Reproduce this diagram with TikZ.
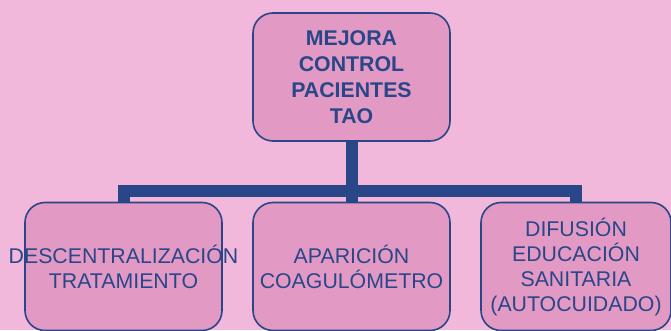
\documentclass[tikz,border=0pt]{standalone}
\usepackage{fontspec}
\setmainfont{Liberation Sans}
\usetikzlibrary{positioning,calc}
\pgfdeclarelayer{bg}
\pgfsetlayers{bg,main}
\definecolor{rosaclaro}{RGB}{241,184,219}
\definecolor{rosa}{RGB}{226,153,196}
\definecolor{azul}{RGB}{41,71,136}

\tikzset{
  cajita/.style={draw=azul, line width=1.6pt, fill=rosa, rounded corners=20pt,
    text=azul, align=center, minimum width=197pt, minimum height=128pt,
    inner sep=0pt, font=\fontsize{21.3}{25}\selectfont},
  raiz/.style={cajita, font=\fontsize{21.3}{26}\selectfont\bfseries},
  rama/.style={draw=azul, line width=12pt}
}

\begin{document}
\begin{tikzpicture}[x=1pt,y=1pt]
    \useasboundingbox (0,0) rectangle (671,330);

    \node [raiz] (tao) at (351.5,253) {MEJORA\\CONTROL\\PACIENTES\\TAO};
    \node [cajita] (desc) at (123.5,63.5) {\makebox[0pt]{DESCENTRALIZACIÓN}\\TRATAMIENTO};
    \node [cajita] (coag) at (351.5,63.5) {APARICIÓN\\COAGULÓMETRO};
    \node [cajita, minimum width=190pt] (difu) at (576,63.5) {DIFUSIÓN\\EDUCACIÓN\\SANITARIA\\(AUTOCUIDADO)};
    \coordinate (cruce) at (351.5,139);

    \begin{pgfonlayer}{bg}    % fondo y ramas detras de las cajas
        \fill [rosaclaro] (0,0) rectangle (671,330);
        \draw [rama] (tao.south) -- (coag.north);
        \draw [rama] (desc.north) |- (cruce) -| (difu.north);
    \end{pgfonlayer}

\end{tikzpicture}
\end{document}
